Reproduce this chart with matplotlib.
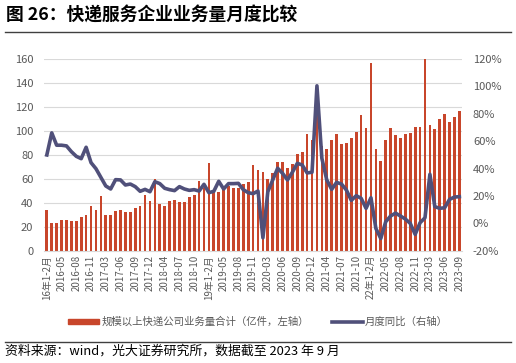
import numpy as np
import matplotlib
matplotlib.use("Agg")
import matplotlib.pyplot as plt
from matplotlib.lines import Line2D
from matplotlib.patches import Patch

plt.rcParams['font.family'] = ['Noto Sans CJK SC', 'DejaVu Sans']
plt.rcParams['axes.unicode_minus'] = False

# monthly express volume (亿件), 85 periods from 2016 1-2月 to 2023-09
volume = [34.0, 23.4, 23.4, 25.3, 25.6, 24.8, 24.8, 27.8, 29.8, 37.3, 33.7,
          45.4, 30.1, 29.5, 33.1, 34.0, 32.0, 32.6, 35.9, 37.3, 46.8, 41.6,
          59.8, 39.0, 37.3, 41.5, 42.3, 40.6, 40.9, 44.5, 46.8, 58.4, 52.0,
          72.9, 49.3, 49.3, 52.6, 54.3, 52.6, 52.6, 55.7, 57.6, 71.3, 67.3,
          65.4, 59.8, 64.6, 73.8, 74.3, 69.0, 72.4, 80.7, 82.4, 97.1, 92.4,
          131.0, 87.7, 84.6, 92.1, 97.1, 88.8, 89.6, 94.3, 99.4, 113.3, 102.4,
          156.7, 85.2, 74.6, 92.1, 102.4, 96.3, 94.1, 97.1, 98.5, 103.5, 103.5,
          160.0, 104.6, 101.9, 109.9, 114.4, 107.4, 111.6, 116.6]

# year-on-year growth (%)
yoy = [49.9, 66.0, 57.0, 57.0, 56.5, 52.3, 48.9, 47.2, 55.5, 44.3, 39.9,
       33.6, 27.3, 25.1, 31.9, 31.7, 28.0, 28.7, 26.8, 23.4, 24.8, 23.1,
       30.4, 29.0, 25.6, 24.6, 23.9, 26.8, 25.1, 24.1, 24.6, 23.6, 28.5,
       22.4, 23.4, 30.7, 25.1, 29.0, 29.0, 29.2, 24.6, 22.4, 21.7, 23.6,
       -10.5, 23.1, 31.7, 40.2, 36.5, 31.7, 37.3, 43.8, 42.6, 36.8, 37.3,
       100.3, 47.5, 31.7, 24.8, 29.9, 28.7, 24.3, 16.8, 20.2, 18.3, 11.0,
       18.7, -3.7, -11.0, 1.2, 5.4, 7.5, 5.4, 3.2, 0.0, -8.0, 0.5,
       4.1, 35.8, 12.2, 11.0, 11.4, 17.5, 19.2, 19.5]

tick_labels = ["16年1-2月", "2016-05", "2016-08", "2016-11", "2017-03", "2017-06",
               "2017-09", "2017-12", "2018-04", "2018-07", "2018-10", "19年1-2月",
               "2019-05", "2019-08", "2019-11", "2020-03", "2020-06", "2020-09",
               "2020-12", "2021-04", "2021-07", "2021-10", "22年1-2月", "2022-05",
               "2022-08", "2022-11", "2023-03", "2023-06", "2023-09"]

bar_color = "#C8462B"
line_color = "#50507A"
grid_color = "#D9D9D9"
text_color = "#595959"

x = np.arange(len(volume))

fig = plt.figure(figsize=(5.16, 3.63), dpi=100)
ax = fig.add_axes([0.086, 0.309, 0.809, 0.529])
ax2 = ax.twinx()

ax.bar(x, volume, width=0.55, color=bar_color, zorder=2)
ax2.plot(x, yoy, color=line_color, linewidth=2.6, zorder=3)

ax.set_xlim(-0.5, len(volume) - 0.5)
ax.set_ylim(0, 160)
ax.set_yticks(np.arange(0, 161, 20))
ax2.set_ylim(-20, 120)
ax2.set_yticks(np.arange(-20, 121, 20))
ax2.set_yticklabels(["{0}%".format(v) for v in range(-20, 121, 20)])

ax.set_xticks(x[::3])
ax.set_xticklabels(tick_labels, rotation=90, fontsize=7, color=text_color)
ax.tick_params(axis="x", length=0, pad=3)
ax.tick_params(axis="y", length=0, labelsize=8, colors=text_color, pad=8)
ax2.tick_params(axis="y", length=0, labelsize=8, colors=text_color, pad=8)

ax.grid(axis="y", color=grid_color, linewidth=0.8, zorder=0)
ax.set_axisbelow(True)
for a in (ax, ax2):
    for s in a.spines.values():
        s.set_visible(False)
ax.spines["bottom"].set_visible(True)
ax.spines["bottom"].set_color(grid_color)

ax.set_zorder(ax2.get_zorder() - 1)
ax.patch.set_visible(False)

handles = [Patch(color=bar_color), Line2D([0], [0], color=line_color, linewidth=2.6)]
fig.legend(handles, ["规模以上快递公司业务量合计（亿件，左轴）", "月度同比（右轴）"],
           loc="center", bbox_to_anchor=(0.5, 0.113), ncol=2, frameon=False,
           fontsize=7.5, handlelength=3.0, handleheight=0.45, columnspacing=2.2,
           handletextpad=0.2, labelcolor=text_color)

fig.text(0.012, 0.958, "图 26：快递服务企业业务量月度比较", fontsize=12.8,
         fontweight="bold", va="center", ha="left", color="black")
fig.add_artist(Line2D([0.01, 0.99], [0.913, 0.913], color="#404040", linewidth=1.0))
fig.add_artist(Line2D([0.01, 0.99], [0.059, 0.059], color="#404040", linewidth=1.0))
fig.text(0.01, 0.034, "资料来源：wind，光大证券研究所，数据截至 2023 年 9 月", fontsize=9.3,
         va="center", ha="left", color="black")

fig.savefig("out.png", dpi=100)
